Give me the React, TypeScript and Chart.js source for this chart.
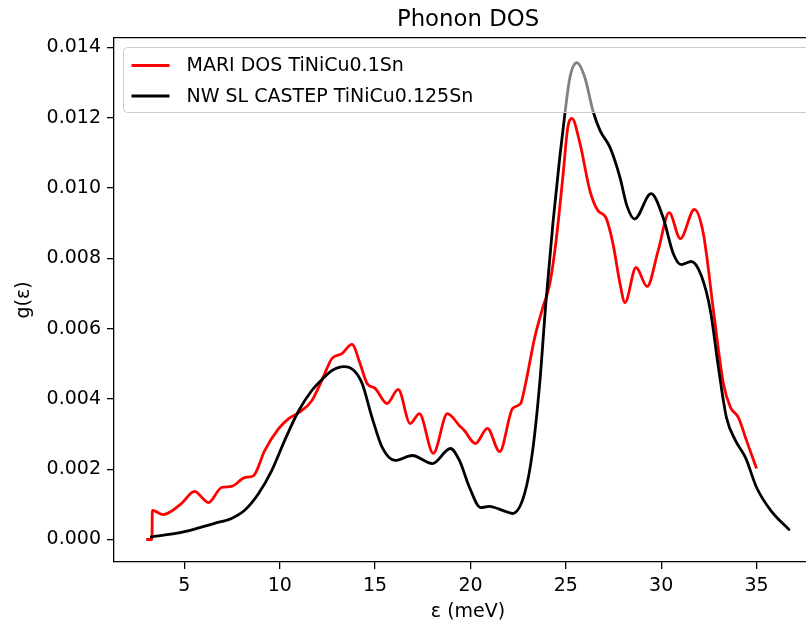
import React, { useEffect, useRef } from 'react';
import { Chart, registerables } from 'chart.js';

Chart.register(...registerables);

const titleText = 'Phonon DOS';
const xTitle = 'ε (meV)';
const yTitle = 'g(ε)';
const seriesLabels = ['MARI DOS TiNiCu0.1Sn', 'NW SL CASTEP TiNiCu0.125Sn'];
const seriesColors = ['#ff0000', '#000000'];

const xTicks = [5, 10, 15, 20, 25, 30, 35];
const yTicks = [0, 0.002, 0.004, 0.006, 0.008, 0.01, 0.012, 0.014];

const redX = [3.0, 3.3, 3.32, 3.89, 4.84, 5.53, 6.26, 6.95, 7.47, 8.16, 8.63, 9.21, 9.95, 10.47, 11.0, 11.68, 12.2, 12.74, 13.26, 13.79, 14.21, 14.58, 15.0, 15.63, 16.21, 16.84, 17.32, 18.05, 18.79, 19.42, 19.68, 20.26, 20.89, 21.53, 22.21, 22.63, 22.89, 23.37, 23.79, 24.16, 24.47, 24.84, 25.1, 25.32, 25.74, 26.26, 26.68, 27.1, 27.47, 27.84, 28.1, 28.68, 29.26, 29.84, 30.42, 31.0, 31.74, 32.21, 32.74, 33.26, 33.63, 34.05, 34.47, 35.0];
const redY = [0, 0, 0.00083, 0.00071, 0.00102, 0.00137, 0.00105, 0.00148, 0.00151, 0.00176, 0.00182, 0.00253, 0.00316, 0.00344, 0.00361, 0.00395, 0.00452, 0.00515, 0.00529, 0.00555, 0.00501, 0.00444, 0.0043, 0.00387, 0.00427, 0.0033, 0.00358, 0.00245, 0.00358, 0.00324, 0.0031, 0.00273, 0.00316, 0.0025, 0.00373, 0.00387, 0.00444, 0.00575, 0.0066, 0.00728, 0.00842, 0.0103, 0.01172, 0.01198, 0.01127, 0.00993, 0.00936, 0.00916, 0.00842, 0.00728, 0.00674, 0.00774, 0.0072, 0.00822, 0.0093, 0.00856, 0.00939, 0.0087, 0.00651, 0.00444, 0.00376, 0.00347, 0.00282, 0.00202];

const blackX = [3.2, 4.84, 6.58, 7.47, 8.16, 8.89, 9.58, 10.26, 11.0, 11.68, 12.32, 12.74, 13.37, 13.89, 14.32, 14.84, 15.37, 16.05, 16.95, 18.0, 18.95, 19.42, 19.95, 20.53, 21.0, 21.26, 21.68, 22.21, 22.84, 23.26, 23.63, 23.95, 24.32, 24.68, 24.95, 25.21, 25.58, 26.0, 26.42, 26.79, 27.32, 27.84, 28.2, 28.6, 29.47, 30.1, 30.63, 31.05, 31.58, 32.1, 32.58, 33.0, 33.42, 33.89, 34.42, 35.0, 35.74, 36.74];
const blackY = [0.00007, 0.0002, 0.00046, 0.0006, 0.00083, 0.00131, 0.00196, 0.00282, 0.00367, 0.00424, 0.00461, 0.00481, 0.00492, 0.00481, 0.00444, 0.00347, 0.00262, 0.00225, 0.00239, 0.00216, 0.00259, 0.00225, 0.00148, 0.00091, 0.00094, 0.00091, 0.00083, 0.00074, 0.00131, 0.00253, 0.00444, 0.00671, 0.00899, 0.01087, 0.01212, 0.01314, 0.01357, 0.01314, 0.0122, 0.01164, 0.01115, 0.0103, 0.0095, 0.00912, 0.00984, 0.00916, 0.00814, 0.00782, 0.00791, 0.00751, 0.00651, 0.00489, 0.00347, 0.00282, 0.00233, 0.00148, 0.00083, 0.00026];

const FONT = '"DejaVu Sans", sans-serif';

const legendPlugin = {
  id: 'mplLegend',
  afterDatasetsDraw(chart: any) {
    const { ctx, chartArea } = chart;
    const pad = 9.5;
    const x0 = chartArea.left + pad;
    const y0 = chartArea.top + pad;
    const x1 = chartArea.right - pad;
    const y1 = y0 + 65;
    ctx.save();
    ctx.beginPath();
    if (ctx.roundRect) ctx.roundRect(x0, y0, x1 - x0, y1 - y0, 4);
    else ctx.rect(x0, y0, x1 - x0, y1 - y0);
    ctx.fillStyle = 'rgba(255,255,255,0.5)';
    ctx.fill();
    ctx.strokeStyle = '#cccccc';
    ctx.lineWidth = 1;
    ctx.stroke();
    chart.data.datasets.forEach((ds: any, i: number) => {
      const cy = y0 + 18 + i * 30.5;
      ctx.strokeStyle = ds.borderColor;
      ctx.lineWidth = 2.8;
      ctx.lineCap = 'butt';
      ctx.beginPath();
      ctx.moveTo(x0 + 8, cy);
      ctx.lineTo(x0 + 46, cy);
      ctx.stroke();
      ctx.fillStyle = '#000';
      ctx.font = `19px ${FONT}`;
      ctx.textBaseline = 'middle';
      ctx.textAlign = 'left';
      ctx.fillText(ds.label, x0 + 63, cy + 1);
    });
    ctx.restore();
  },
};

export default function App() {
  const ref = useRef<HTMLCanvasElement>(null);

  useEffect(() => {
    if (!ref.current) return;
    const xMin = 1.31;
    const xMax = 38.43;
    const tickStyle = { color: '#000', font: { family: FONT, size: 19 } };
    const chart = new Chart(ref.current, {
      type: 'line',
      data: {
        datasets: [
          {
            label: seriesLabels[0],
            data: redX.map((x, i) => ({ x, y: redY[i] })),
            borderColor: seriesColors[0],
            borderWidth: 2.8,
            pointRadius: 0,
            cubicInterpolationMode: 'monotone',
            order: 1,
            xAxisID: 'x',
          },
          {
            label: seriesLabels[1],
            data: blackX.map((x, i) => ({ x, y: blackY[i] })),
            borderColor: seriesColors[1],
            borderWidth: 2.8,
            pointRadius: 0,
            cubicInterpolationMode: 'monotone',
            order: 0,
            xAxisID: 'x',
          },
        ],
      },
      options: {
        responsive: false,
        animation: false,
        events: [],
        layout: { padding: 0 },
        plugins: {
          legend: { display: false },
          title: { display: false },
          tooltip: { enabled: false },
        },
        scales: {
          x: {
            type: 'linear',
            position: 'bottom',
            min: xMin,
            max: xMax,
            afterBuildTicks: (s: any) => {
              s.ticks = xTicks.map((v) => ({ value: v }));
            },
            afterFit: (s: any) => {
              s.height = 66;
            },
            ticks: { ...tickStyle, padding: 6, maxRotation: 0, autoSkip: false, callback: (v: any) => String(v) },
            grid: { display: true, drawOnChartArea: false, drawTicks: true, tickLength: 7, color: '#000', lineWidth: 1.3 },
            border: { display: true, color: '#000', width: 1.3 },
            title: { display: true, text: xTitle, color: '#000', font: { family: FONT, size: 19 }, padding: { top: 0, bottom: 5 } },
          },
          x2: {
            type: 'linear',
            position: 'top',
            min: xMin,
            max: xMax,
            afterFit: (s: any) => {
              s.height = 38;
            },
            ticks: { display: false },
            grid: { display: false },
            border: { display: true, color: '#000', width: 1.3 },
            title: { display: true, text: titleText, color: '#000', font: { family: FONT, size: 22.8 }, padding: { top: 6, bottom: 0 } },
          },
          y: {
            type: 'linear',
            position: 'left',
            min: -0.00064,
            max: 0.01427,
            afterBuildTicks: (s: any) => {
              s.ticks = yTicks.map((v) => ({ value: v }));
            },
            afterFit: (s: any) => {
              s.width = 114;
            },
            ticks: { ...tickStyle, padding: 6, callback: (v: any) => Number(v).toFixed(3) },
            grid: { display: true, drawOnChartArea: false, drawTicks: true, tickLength: 7, color: '#000', lineWidth: 1.3 },
            border: { display: true, color: '#000', width: 1.3 },
            title: { display: true, text: yTitle, color: '#000', font: { family: FONT, size: 19 }, padding: { top: 12.6, bottom: 0 } },
          },
        },
      },
      plugins: [legendPlugin],
    } as any);
    return () => chart.destroy();
  }, []);

  return (
    <div style={{ position: 'fixed', left: 0, top: 0, width: 806, height: 628, overflow: 'hidden', background: '#fff' }}>
      <canvas ref={ref} width={822} height={628} style={{ display: 'block' }} />
    </div>
  );
}
